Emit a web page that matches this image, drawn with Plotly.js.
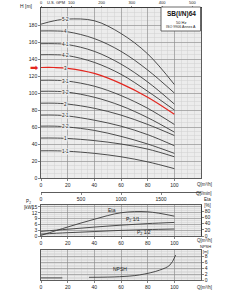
<!DOCTYPE html>
<html><head><meta charset="utf-8">
<script src="https://cdn.plot.ly/plotly-3.0.1.min.js"></script>
<style>html,body{margin:0;padding:0;background:#fff}#chart{width:245px;height:300px}</style>
</head><body><div id="chart"></div>
<script>
// ---- data ----
const q = [0, 10, 20, 40, 60, 80, 100];
const curveLabels = ['5-2', '4', '4-1', '4-2', '3', '3-1', '3-2', '2', '2-1', '2-2', '1', '1-1'];
const h_5_2 = [181, 185, 187, 185, 170, 146, 110];
const h_4   = [173, 173, 172, 164, 149, 127, 100];
const h_4_1 = [158, 158, 157, 149, 134, 113, 87];
const h_4_2 = [145, 145, 144, 136, 122, 102, 80];
const h_3   = [130, 130, 129, 123, 111, 95, 75];
const h_3_1 = [115, 115, 114, 108, 97, 82, 63];
const h_3_2 = [102, 102, 101, 95, 85, 71, 54];
const h_2   = [88, 88, 87, 82, 74, 63, 50];
const h_2_1 = [74, 74, 73, 68, 61, 51, 38];
const h_2_2 = [61, 61, 60, 56, 49, 40, 29];
const h_1   = [47, 47, 46.5, 44, 40, 34, 25];
const h_1_1 = [32, 32, 31.5, 29, 25, 19, 11];
const heads = [h_5_2, h_4, h_4_1, h_4_2, h_3, h_3_1, h_3_2, h_2, h_2_1, h_2_2, h_1, h_1_1];
const highlighted = '3';

const qPow = [0, 20, 40, 60, 80, 100];
const eta = [2, 29, 54, 75, 78, 64];
const p2Full = [2.4, 3.5, 4.6, 5.6, 6.4, 7.0];
const p2Half = [1.0, 1.7, 2.3, 2.9, 3.3, 3.6];

const qNpsh = [0, 16, null, 36, 59, 74, 89, 96.7, 101];
const npsh = [0.7, 0.7, null, 0.9, 1.1, 1.7, 3.3, 5.0, 8.3];

const qTicks = [0, 20, 40, 60, 80, 100];
const hTicks = [0, 20, 40, 60, 80, 100, 120, 140, 160, 180];
const gpmTicks = [0, 100, 200, 300, 400, 500];
const lminTicks = [0, 500, 1000, 1500];
const p2Ticks = [0, 3, 6, 9, 12, 15];
const etaTicks = [0, 20, 40, 60, 80];
const npshTicks = [0, 2, 4, 6, 8];

// unit conversions for the secondary flow axes
const M3H_TO_GPM = 4.4029;
const M3H_TO_LMIN = 1000 / 60;

// ---- helpers ----
const W = 245, H = 300;
const px = x => x / W, py = y => 1 - y / H;
const FONT = 'Liberation Sans, Arial, sans-serif';
const dark = '#3a3a3a';
const xd = [px(41), px(201)];
const tf = {family: FONT, size: 5, color: '#222'};
const sf = {family: FONT, size: 4.5, color: '#222'};

function baseAxis(extra) {
  return Object.assign({
    showline: true, linecolor: '#333', linewidth: 0.8, mirror: true,
    ticks: 'outside', ticklen: 2, tickwidth: 0.6, tickcolor: '#333',
    tickfont: tf, showgrid: true, gridcolor: '#8c8c8c', gridwidth: 0.6,
    zeroline: false, fixedrange: true
  }, extra);
}

const traces = [];
heads.forEach((h, i) => {
  const red = curveLabels[i] === highlighted;
  traces.push({x: q, y: h, xaxis: 'x', yaxis: 'y', mode: 'lines',
    line: {color: red ? '#e3261f' : dark, width: red ? 1.2 : 0.9, shape: 'spline'},
    hoverinfo: 'skip', showlegend: false});
});
// invisible companions so the GPM and l/min axes are drawn
traces.push({x: q.map(v => v * M3H_TO_GPM), y: h_5_2, xaxis: 'x4', yaxis: 'y', mode: 'lines',
  line: {width: 0, color: 'rgba(0,0,0,0)'}, hoverinfo: 'skip', showlegend: false});
traces.push({x: q.map(v => v * M3H_TO_LMIN), y: h_5_2, xaxis: 'x5', yaxis: 'y', mode: 'lines',
  line: {width: 0, color: 'rgba(0,0,0,0)'}, hoverinfo: 'skip', showlegend: false});

traces.push({x: qPow, y: eta, xaxis: 'x2', yaxis: 'y3', mode: 'lines',
  line: {color: dark, width: 0.9, shape: 'spline'}, showlegend: false});
traces.push({x: qPow, y: p2Full, xaxis: 'x2', yaxis: 'y2', mode: 'lines',
  line: {color: dark, width: 0.9, shape: 'spline'}, showlegend: false});
traces.push({x: qPow, y: p2Half, xaxis: 'x2', yaxis: 'y2', mode: 'lines',
  line: {color: dark, width: 0.9, shape: 'spline'}, showlegend: false});
traces.push({x: qNpsh, y: npsh, xaxis: 'x3', yaxis: 'y4', mode: 'lines',
  line: {color: dark, width: 0.9, shape: 'spline'}, showlegend: false});

const ann = [];
function txt(x, y, text, opts) {
  ann.push(Object.assign({xref: 'paper', yref: 'paper', x: px(x), y: py(y), text: text,
    showarrow: false, font: tf, xanchor: 'center', yanchor: 'middle'}, opts || {}));
}
// curve labels
heads.forEach((h, i) => {
  ann.push({xref: 'x', yref: 'y', x: 18, y: h[2], text: curveLabels[i], showarrow: false,
    font: {family: FONT, size: 4.5, color: '#222'}, bgcolor: '#ececec', borderpad: 0});
});
// red arrow pointing at the highlighted curve
ann.push({xref: 'paper', yref: 'y', x: px(40.5), y: h_3[0], xanchor: 'right', yanchor: 'middle',
  text: '➡', showarrow: false, font: {family: 'DejaVu Sans', size: 10, color: '#e3261f'}});
txt(35, 6, 'H [m]', {xanchor: 'right'});
txt(56, 2.2, 'U.S. GPM', {font: {family: FONT, size: 4, color: '#222'}});
txt(204, 184, 'Q[m³/h]', {font: sf});
txt(204, 193, 'Q[l/min]', {font: sf});
txt(35, 204, 'P<sub>2</sub><br>[kW]', {xanchor: 'right', font: sf});
txt(207, 202, 'Eta<br>[%]', {font: sf});
txt(204, 240, 'Q[m³/h]', {font: sf});
txt(205, 248.5, 'NPSH<br>[m]', {font: {family: FONT, size: 4, color: '#222'}});
txt(204, 287, 'Q[m³/h]', {font: sf});
// in-plot labels
txt(112, 210, 'Eta');
txt(133, 220, 'P<sub>2</sub> 1/1');
txt(144, 232, 'P<sub>2</sub> 1/2');
txt(120, 269, 'NPSH');
// title box
txt(181, 14, '<b>SB(I/N)64</b>', {font: {family: FONT, size: 6.5, color: '#111'}});
txt(181, 22, '50 Hz', {font: {family: FONT, size: 4, color: '#222'}});
txt(181, 26.5, 'ISO 9906 Annex A', {font: {family: FONT, size: 3.6, color: '#222'}});

const minorGrid = d => ({dtick: d, showgrid: true, gridcolor: '#cfcfcf', gridwidth: 0.5, ticklen: 0});

const layout = {
  width: W, height: H, margin: {l: 0, r: 0, t: 0, b: 0},
  paper_bgcolor: '#fff', plot_bgcolor: '#ececec', showlegend: false,
  font: {family: FONT, size: 5},
  xaxis: baseAxis({domain: xd, anchor: 'y', range: [0, 120], tickvals: qTicks, minor: minorGrid(5)}),
  yaxis: baseAxis({domain: [py(178), py(8)], anchor: 'x', range: [0, 200], tickvals: hTicks, minor: minorGrid(5)}),
  xaxis4: baseAxis({overlaying: 'x', anchor: 'y', side: 'top', range: [0, 120 * M3H_TO_GPM],
    tickvals: gpmTicks, showgrid: false, mirror: false, ticklen: 1.5,
    tickfont: {family: FONT, size: 4, color: '#222'}}),
  xaxis5: baseAxis({overlaying: 'x', anchor: 'free', position: py(192), side: 'bottom',
    range: [0, 120 * M3H_TO_LMIN], tickvals: lminTicks, showgrid: false, mirror: false}),
  xaxis2: baseAxis({domain: xd, anchor: 'y2', range: [0, 120], tickvals: qTicks, minor: minorGrid(5)}),
  yaxis2: baseAxis({domain: [py(236), py(205)], anchor: 'x2', range: [0, 16], tickvals: p2Ticks,
    minor: minorGrid(1)}),
  yaxis3: baseAxis({overlaying: 'y2', anchor: 'x2', side: 'right', range: [0, 100], tickvals: etaTicks,
    showgrid: false, mirror: false}),
  xaxis3: baseAxis({domain: xd, anchor: 'y4', range: [0, 120], tickvals: qTicks, minor: minorGrid(5)}),
  yaxis4: baseAxis({domain: [py(280), py(250)], anchor: 'x3', side: 'right', range: [0, 10],
    tickvals: npshTicks, minor: minorGrid(0.5)}),
  shapes: [{type: 'rect', xref: 'paper', yref: 'paper', x0: px(161), x1: px(200.5), y0: py(31), y1: py(7),
    fillcolor: '#fff', line: {color: '#444', width: 0.8}, layer: 'above'}],
  annotations: ann
};

Plotly.newPlot('chart', traces, layout, {staticPlot: true, displayModeBar: false});
</script></body></html>
